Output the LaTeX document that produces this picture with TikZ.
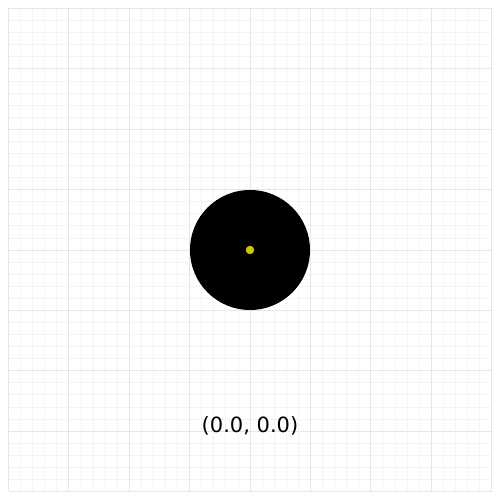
\documentclass[tikz,border=0pt]{standalone}
\usepackage{fontspec}
\setmainfont{DejaVu Sans}
\definecolor{minorgrid}{HTML}{F4F4F4}
\definecolor{majorgrid}{HTML}{E6E6E6}
\definecolor{dotyellow}{HTML}{C8C800}
\begin{document}
\begin{tikzpicture}[x=1pt,y=1pt,
  minorline/.style={draw=minorgrid,line width=0.8pt},
  majorline/.style={draw=majorgrid,line width=0.9pt},
  ball/.style={circle,fill=black,minimum size=120pt,inner sep=0pt},
  centerdot/.style={circle,fill=dotyellow,minimum size=8.5pt,inner sep=0pt},
  coordlabel/.style={font=\fontsize{21}{25}\selectfont,inner sep=0pt,anchor=base}]
\useasboundingbox[fill=white] (0,0) rectangle (500,500);
\foreach \i in {0,...,40}{
  \pgfmathsetmacro{\p}{8.5+\i*12.075}
  \pgfmathtruncatemacro{\m}{mod(\i,5)}
  \ifnum\m=0
    \path[majorline] (\p,8.5) -- (\p,491.5);
    \path[majorline] (8.5,\p) -- (491.5,\p);
  \else
    \path[minorline] (\p,8.5) -- (\p,491.5);
    \path[minorline] (8.5,\p) -- (491.5,\p);
  \fi
}
\node[ball] (body) at (250,250) {};
\node[centerdot] (center) at (body.center) {};
\node[coordlabel] (label) at (250,67) {(0.0, 0.0)};
\end{tikzpicture}
\end{document}
